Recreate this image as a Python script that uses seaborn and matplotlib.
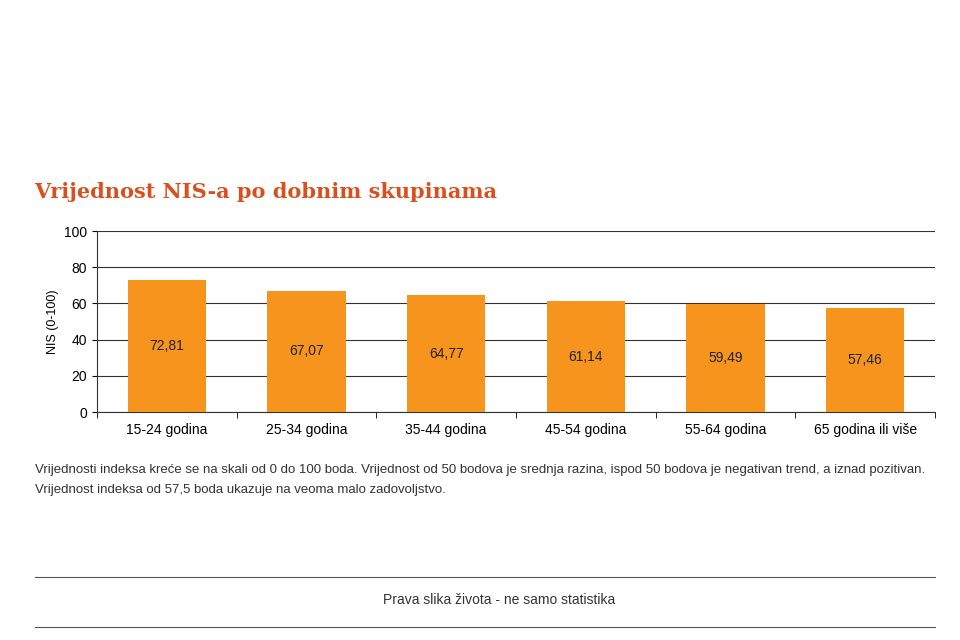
import matplotlib
matplotlib.use("Agg")
import matplotlib.pyplot as plt
import seaborn as sns
import pandas as pd

groups = ["15-24 godina", "25-34 godina", "35-44 godina", "45-54 godina", "55-64 godina", "65 godina ili više"]
values = [72.81, 67.07, 64.77, 61.14, 59.49, 57.46]
labels = ["72,81", "67,07", "64,77", "61,14", "59,49", "57,46"]

BAR = "#f7941d"
TITLE = "#d9501e"

df = pd.DataFrame({"group": groups, "nis": values})

fig = plt.figure(figsize=(9.6, 6.4), dpi=100)
ax = fig.add_axes([0.101, 0.356, 0.873, 0.283])
sns.barplot(data=df, x="group", y="nis", color=BAR, width=0.56, saturation=1, ax=ax, zorder=3)

for i, (v, s) in enumerate(zip(values, labels)):
    ax.text(i, v / 2, s, ha="center", va="center", fontsize=10, color="#222222",
            family="Liberation Sans", zorder=4)

ax.set_ylim(0, 100)
ax.set_xlim(-0.5, len(groups) - 0.5)
ax.set_yticks(range(0, 101, 20))
ax.yaxis.grid(True, color="#333333", linewidth=0.8, zorder=0)
for s in ["top", "right"]:
    ax.spines[s].set_visible(False)
for s in ["left", "bottom"]:
    ax.spines[s].set_color("#333333")
ax.set_xlabel("")
ax.set_ylabel("NIS (0-100)", fontsize=9, family="Liberation Sans")
ax.set_xticks([i - 0.5 for i in range(len(groups) + 1)], minor=True)
ax.tick_params(axis="x", which="major", length=0, pad=8)
ax.tick_params(axis="x", which="minor", length=4)
ax.tick_params(labelsize=10)
for t in ax.get_xticklabels() + ax.get_yticklabels():
    t.set_family("Liberation Sans")

fig.text(0.036, 0.700, "Vrijednost NIS-a po dobnim skupinama", fontsize=15, fontweight="bold",
         color=TITLE, family="DejaVu Serif", va="center")
fig.text(0.036, 0.265, "Vrijednosti indeksa kreće se na skali od 0 do 100 boda. Vrijednost od 50 bodova je srednja razina, "
         "ispod 50 bodova je negativan trend, a iznad pozitivan.", fontsize=9.5, color="#333333",
         family="Liberation Sans", va="center")
fig.text(0.036, 0.234, "Vrijednost indeksa od 57,5 boda ukazuje na veoma malo zadovoljstvo.", fontsize=9.5,
         color="#333333", family="Liberation Sans", va="center")

fig.add_artist(plt.Line2D([0.036, 0.974], [0.098, 0.098], color="#555555", linewidth=0.8))
fig.add_artist(plt.Line2D([0.036, 0.974], [0.020, 0.020], color="#555555", linewidth=0.8))
fig.text(0.52, 0.062, "Prava slika života - ne samo statistika", fontsize=10, color="#333333",
         family="Liberation Sans", ha="center", va="center")

fig.savefig("out.png", dpi=100, facecolor="white")
